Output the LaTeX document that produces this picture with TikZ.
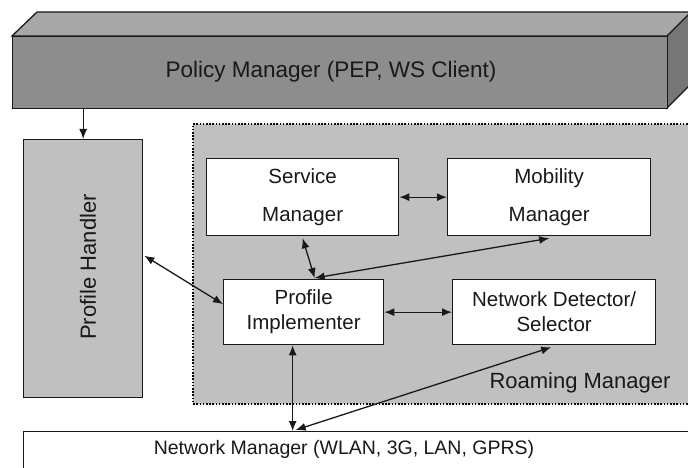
\documentclass[tikz,border=0pt]{standalone}
\usepackage{fontspec}
\setmainfont{Liberation Sans}
\usetikzlibrary{arrows.meta,calc}
\definecolor{boxgray}{RGB}{192,192,192}
\definecolor{pmfront}{RGB}{141,141,141}
\definecolor{pmtop}{RGB}{168,168,168}
\definecolor{pmside}{RGB}{118,118,118}
\definecolor{edge}{RGB}{25,25,25}
\definecolor{txt}{RGB}{25,25,25}
\begin{document}
\begin{tikzpicture}[x=1pt,y=-1pt,
  whitebox/.style={draw=edge, line width=1.3pt, fill=white, inner sep=0pt, anchor=north west, align=center, text=txt},
  graybox/.style={draw=edge, line width=1.3pt, fill=boxgray, inner sep=0pt, anchor=north west},
  conn/.style={draw=edge, line width=1.3pt, {Latex[length=10pt,width=8pt]}-{Latex[length=10pt,width=8pt]}},
  oneway/.style={draw=edge, line width=1.3pt, -{Latex[length=10pt,width=8pt]}},
  lbl/.style={text=txt, inner sep=0pt}]
\clip (0,0) rectangle (688,468);
\fill[white] (0,0) rectangle (688,468);
% Policy Manager 3D block
\filldraw[fill=pmtop, draw=edge, line width=1.3pt] (12,36) -- (37,12) -- (712,12) -- (667,36) -- cycle;
\filldraw[fill=pmside, draw=edge, line width=1.3pt] (667,36) -- (691,12) -- (691,84) -- (667,108) -- cycle;
\node[draw=edge, line width=1.3pt, fill=pmfront, inner sep=0pt, anchor=north west,
      minimum width=655pt, minimum height=72pt] (pm) at (12,36) {};
\node[lbl, font=\fontsize{22.5}{26}\selectfont] (pmtext) at (331,72) {Policy Manager (PEP, WS Client)};
% Profile Handler
\node[graybox, minimum width=119pt, minimum height=258pt] (ph) at (23,139) {};
\node[lbl, rotate=90, font=\fontsize{22}{26}\selectfont] (phtext) at (88,267) {Profile Handler};
% Roaming Manager
\node[graybox, draw=black, dash pattern=on 1.6pt off 1.6pt, line width=2.2pt, minimum width=520pt, minimum height=280pt] (rm) at (192,123) {};
\node[lbl, font=\fontsize{22}{26}\selectfont] (rmtext) at (580,383) {Roaming Manager};
% inner boxes
\node[whitebox, minimum width=192pt, minimum height=77pt, font=\fontsize{20.5}{38}\selectfont] (sm) at (206,158) {Service\\Manager};
\node[whitebox, minimum width=203pt, minimum height=77pt, font=\fontsize{20.5}{38}\selectfont] (mm) at (447,158) {Mobility\\Manager};
\node[whitebox, minimum width=160pt, minimum height=65pt, font=\fontsize{20.5}{25}\selectfont] (pi) at (223,279) {Profile\\Implementer};
\node[whitebox, minimum width=203pt, minimum height=65pt, font=\fontsize{20.5}{25}\selectfont] (nd) at (452,279) {Network Detector/\\Selector};
% Network Manager
\node[whitebox, minimum width=700pt, minimum height=60pt] (nm) at (23,431) {};
\node[lbl, font=\fontsize{19.5}{24}\selectfont] (nmtext) at (344,449) {Network Manager (WLAN, 3G, LAN, GPRS)};
% connector end points
\coordinate (pitop) at ($(pi.north)+(11,-1)$);
\coordinate (pibot) at ($(pi.south)+(-11,0)$);
\coordinate (nmtop) at (pibot |- nm.north);
\coordinate (nmtop2) at ($(nmtop)+(3,-1)$);
\coordinate (phout) at ($(ph.east)+(1,-13)$);
\coordinate (piin) at ($(pi.west)+(0,-8)$);
% connectors
\draw[oneway] (ph.north |- pm.south) -- (ph.north);
\draw[conn] (sm.east) -- (mm.west);
\draw[conn] ($(sm.south)+(0,2)$) -- (pitop);
\draw[conn] (pitop) -- ($(mm.south)+(0,2)$);
\draw[conn] (phout) -- (piin);
\draw[conn] (pi.east) -- (nd.west);
\draw[conn] (pibot) -- (nmtop);
\draw[conn] (nmtop2) -- ($(nd.south)+(-3,2)$);
\end{tikzpicture}
\end{document}
